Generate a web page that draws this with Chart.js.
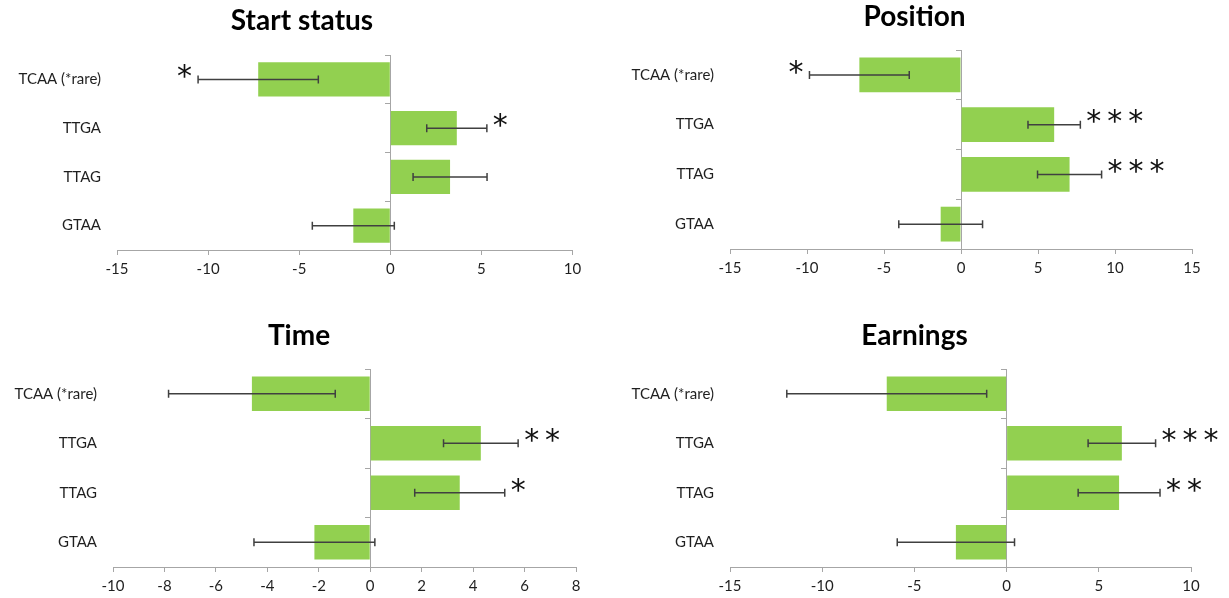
<!DOCTYPE html>
<html>
<head>
<meta charset="utf-8">
<script src="https://cdn.jsdelivr.net/npm/chart.js@4.4.1/dist/chart.umd.min.js"></script>
<style>
  html, body { margin: 0; padding: 0; background: #fff; }
  #page { position: relative; width: 1229px; height: 598px; overflow: hidden; }
  .panel { position: absolute; }
</style>
</head>
<body>
<div id="page">
  <div class="panel" style="left:0;top:0"><canvas id="startChart" width="604" height="300"></canvas></div>
  <div class="panel" style="left:600px;top:0"><canvas id="positionChart" width="629" height="300"></canvas></div>
  <div class="panel" style="left:0;top:300px"><canvas id="timeChart" width="598" height="298"></canvas></div>
  <div class="panel" style="left:600px;top:300px"><canvas id="earningsChart" width="629" height="298"></canvas></div>
</div>
<script>
// categories (top to bottom)
const categories = ['TCAA (*rare)', 'TTGA', 'TTAG', 'GTAA']

// Start status
const startValues = [-7.25, 3.65, 3.28, -2.03]
const startErrors = [3.3, 1.65, 2.03, 2.25]
const startStars = ['*', '*', '', '']

// Position
const positionValues = [-6.6, 6.05, 7.05, -1.32]
const positionErrors = [3.24, 1.7, 2.08, 2.72]
const positionStars = ['*', '***', '***', '']

// Time
const timeValues = [-4.6, 4.3, 3.48, -2.17]
const timeErrors = [3.24, 1.45, 1.75, 2.35]
const timeStars = ['', '**', '*', '']

// Earnings
const earningsValues = [-6.5, 6.25, 6.1, -2.75]
const earningsErrors = [5.42, 1.83, 2.22, 3.18]
const earningsStars = ['', '***', '**', '']

// x axis ranges
const startTicks = { min: -15, max: 10, step: 5 }
const positionTicks = { min: -15, max: 15, step: 5 }
const timeTicks = { min: -10, max: 8, step: 2 }
const earningsTicks = { min: -15, max: 10, step: 5 }

const BAR_GREEN = '#92d050'
const AXIS_GREY = '#a6a6a6'
const TEXT_COLOR = '#1f1f1f'
const FONT = 'Lato, "Open Sans", sans-serif'
const TITLE_SIZE = 28

/**
 * Error bars + significance stars, drawn from the scales
 */
const errorBarPlugin = {
  id: 'errorBars',
  afterDatasetsDraw(chart, args, opts) {
    const { ctx } = chart
    const xs = chart.scales.x
    const ys = chart.scales.y
    const values = chart.data.datasets[0].data
    ctx.save()
    values.forEach((v, i) => {
      const e = opts.errors[i]
      const py = ys.getPixelForValue(i)
      const x1 = xs.getPixelForValue(v - e)
      const x2 = xs.getPixelForValue(v + e)
      ctx.strokeStyle = '#404040'
      ctx.lineWidth = 1.5
      ctx.beginPath()
      ctx.moveTo(x1, py)
      ctx.lineTo(x2, py)
      ctx.moveTo(x1, py - 4)
      ctx.lineTo(x1, py + 4)
      ctx.moveTo(x2, py - 4)
      ctx.lineTo(x2, py + 4)
      ctx.stroke()

      const star = opts.stars[i]
      if (!star) return
      ctx.fillStyle = '#111'
      ctx.font = '30px "DejaVu Sans"'
      ctx.textBaseline = 'middle'
      // thin spaces between the stars
      const text = star.split('').join('\u2009')
      if (v >= 0) {
        ctx.textAlign = 'left'
        ctx.fillText(text, x2 + 6, py - 1)
      } else {
        ctx.textAlign = 'right'
        ctx.fillText(text, x1 - 6, py - 1)
      }
    })
    ctx.restore()
  },
}

function makePanel(canvasId, title, values, errors, stars, range, box) {
  const canvas = document.getElementById(canvasId)
  const W = canvas.width
  const H = canvas.height
  const titleLine = TITLE_SIZE * 1.2

  new Chart(canvas.getContext('2d'), {
    type: 'bar',
    data: {
      labels: categories,
      datasets: [
        {
          data: values,
          backgroundColor: BAR_GREEN,
          borderWidth: 0,
          barPercentage: 0.7,
          categoryPercentage: 1,
        },
      ],
    },
    options: {
      indexAxis: 'y',
      responsive: false,
      animation: false,
      layout: {
        padding: 0,
      },
      plugins: {
        legend: { display: false },
        tooltip: { enabled: false },
        title: {
          display: true,
          text: title,
          color: '#000',
          font: { family: FONT, size: TITLE_SIZE, weight: 'bold', lineHeight: 1.2 },
          padding: {
            top: box.titleY - titleLine / 2,
            bottom: box.top - box.titleY - titleLine / 2,
          },
        },
        errorBars: { errors: errors, stars: stars },
      },
      scales: {
        x: {
          type: 'linear',
          min: range.min,
          max: range.max,
          ticks: {
            stepSize: range.step,
            color: TEXT_COLOR,
            font: { family: FONT, size: 15 },
            padding: 5,
            maxRotation: 0,
          },
          grid: {
            drawOnChartArea: false,
            color: AXIS_GREY,
            tickLength: 5,
          },
          border: { color: AXIS_GREY, width: 1 },
          afterFit(scale) {
            scale.height = H - box.bottom
          },
        },
        y: {
          type: 'category',
          offset: true,
          ticks: {
            color: TEXT_COLOR,
            font: { family: FONT, size: 15 },
            padding: 16,
          },
          grid: { display: false, drawTicks: false },
          border: { display: false },
          afterFit(scale) {
            scale.width = box.left
          },
        },
        // empty right-hand gutter so the title stays centred on the whole panel
        yGutter: {
          type: 'category',
          axis: 'y',
          position: 'right',
          ticks: { display: false },
          grid: { display: false, drawTicks: false },
          border: { display: false },
          afterFit(scale) {
            scale.width = W - box.right
          },
        },
        // vertical axis line crossing at x = 0
        yZero: {
          type: 'category',
          axis: 'y',
          position: { x: 0 },
          offset: true,
          ticks: { display: false },
          grid: {
            offset: true,
            drawOnChartArea: false,
            color: AXIS_GREY,
            tickLength: 5,
          },
          border: { color: AXIS_GREY, width: 1 },
        },
      },
    },
    plugins: [errorBarPlugin],
  })
}

makePanel('startChart', 'Start status', startValues, startErrors, startStars, startTicks,
  { left: 117, top: 55, right: 572.5, bottom: 250, titleY: 21 })
makePanel('positionChart', 'Position', positionValues, positionErrors, positionStars, positionTicks,
  { left: 130, top: 50, right: 592, bottom: 249, titleY: 17 })
makePanel('timeChart', 'Time', timeValues, timeErrors, timeStars, timeTicks,
  { left: 113, top: 69, right: 576, bottom: 267, titleY: 36 })
makePanel('earningsChart', 'Earnings', earningsValues, earningsErrors, earningsStars, earningsTicks,
  { left: 130, top: 69, right: 591, bottom: 267, titleY: 36 })
</script>
</body>
</html>
